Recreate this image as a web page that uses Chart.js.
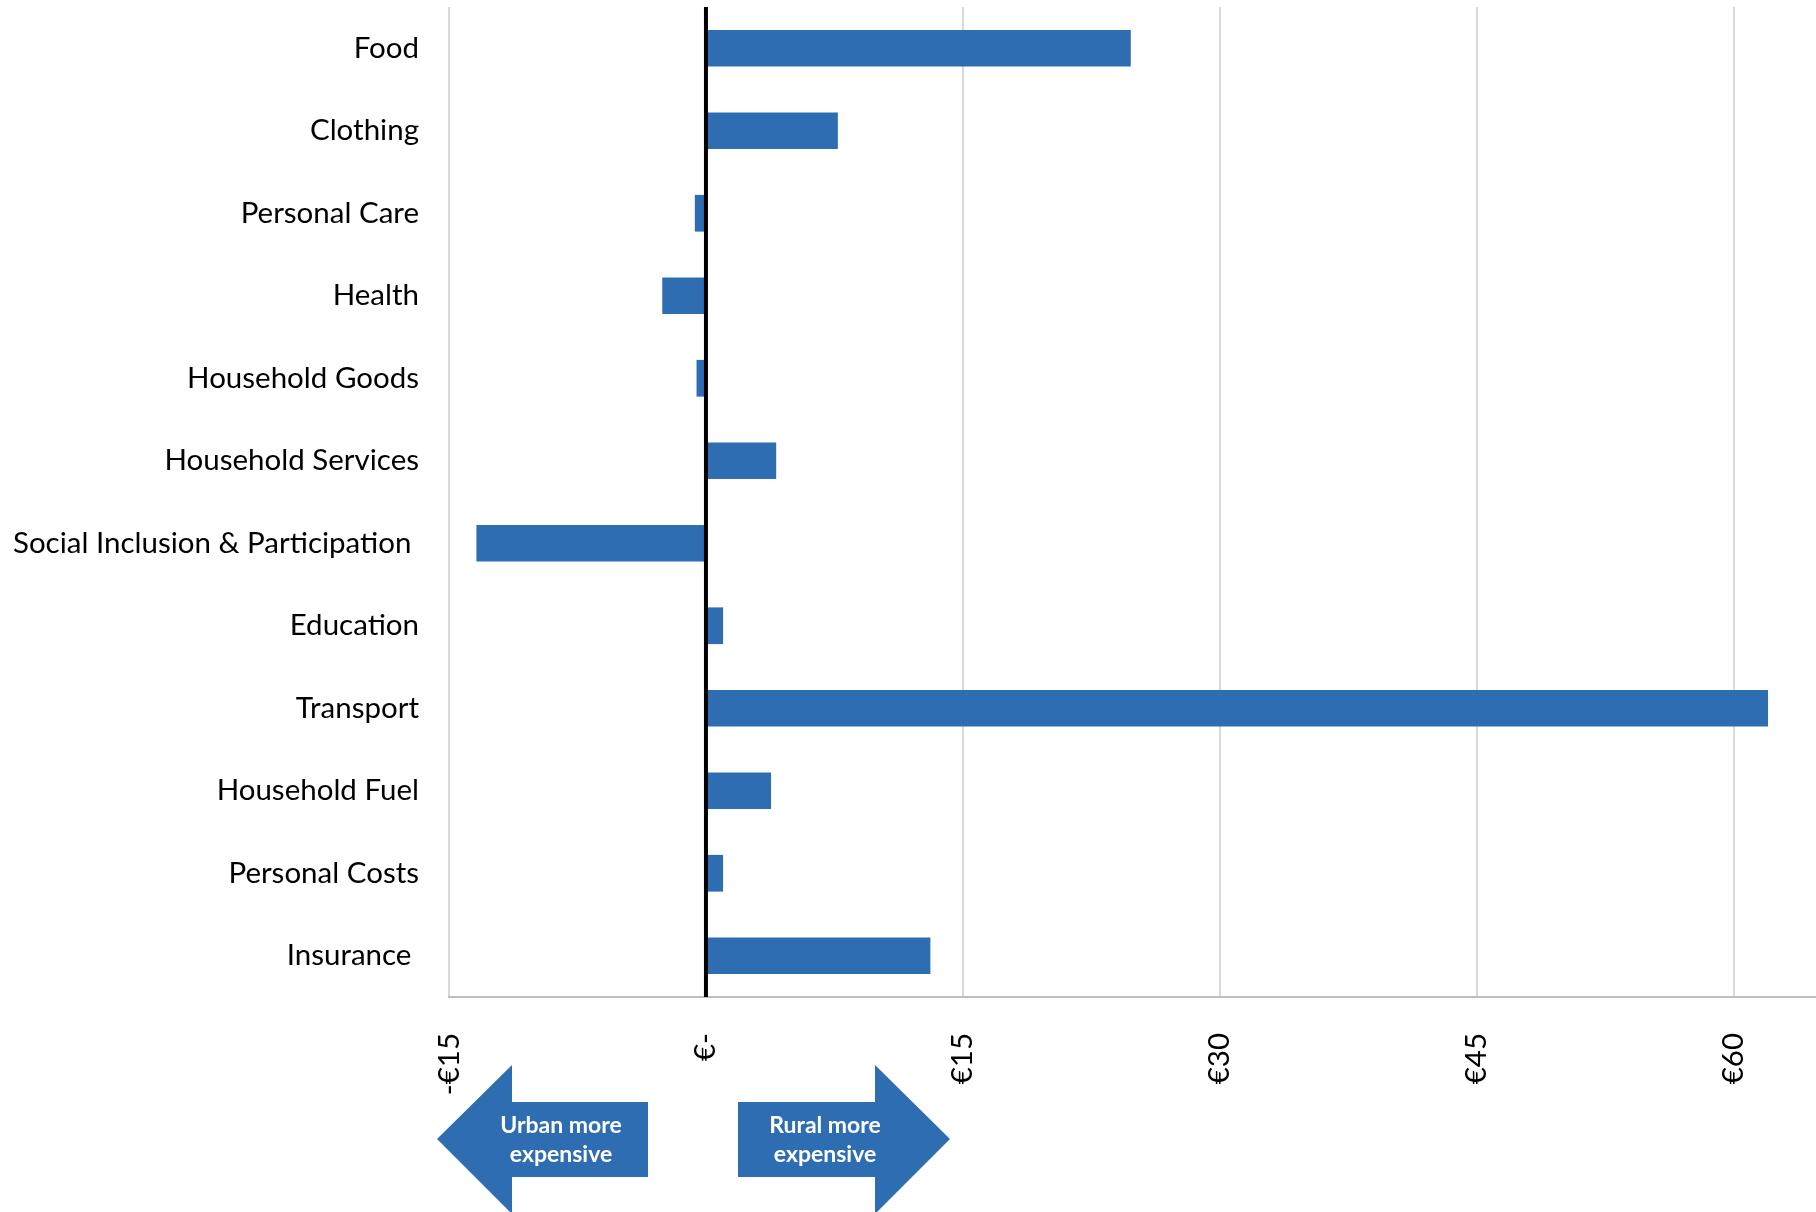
<!DOCTYPE html>
<html lang="en">
<head>
<meta charset="UTF-8">
<title>Urban vs rural cost differences</title>
<script src="https://cdn.jsdelivr.net/npm/chart.js@4/dist/chart.umd.min.js"></script>
<style>
*{margin:0;padding:0;box-sizing:border-box}
body{background:#fff;width:1816px;height:1212px;overflow:hidden}
#wrap{position:relative;width:1816px;height:1212px}
</style>
</head>
<body>
<div id="wrap"><canvas id="c" width="1816" height="1212"></canvas></div>
<script>
// categories, top to bottom (trailing spaces as in the original labels)
const categories = ['Food', 'Clothing', 'Personal Care', 'Health', 'Household Goods', 'Household Services',
  'Social Inclusion & Participation ', 'Education', 'Transport', 'Household Fuel', 'Personal Costs', 'Insurance '];
// weekly difference, rural minus urban (€)
const differences = [24.8, 7.7, -0.65, -2.55, -0.55, 4.1, -13.4, 1.0, 62.0, 3.8, 1.0, 13.1];
const tickValues = [-15, 0, 15, 30, 45, 60];
const tickLabels = ['-€15', '€-', '€15', '€30', '€45', '€60'];
const arrowTexts = [['Urban more', 'expensive'], ['Rural more', 'expensive']];

const BLUE = '#2E6DB2';
const FONT = 'Lato, "Open Sans", sans-serif';

// black line at zero, drawn over the bars
const zeroLine = {
  id: 'zeroLine',
  afterDatasetsDraw(chart) {
    const { ctx, chartArea, scales } = chart;
    const x = scales.x.getPixelForValue(0);
    ctx.save();
    ctx.strokeStyle = '#000';
    ctx.lineWidth = 4;
    ctx.beginPath();
    ctx.moveTo(x, chartArea.top);
    ctx.lineTo(x, chartArea.bottom);
    ctx.stroke();
    ctx.restore();
  }
};

// the two direction arrows under the axis
const arrows = {
  id: 'arrows',
  afterDraw(chart) {
    const ctx = chart.ctx;
    ctx.save();
    ctx.fillStyle = BLUE;
    // left arrow
    ctx.beginPath();
    ctx.moveTo(437, 1139);
    ctx.lineTo(512, 1065);
    ctx.lineTo(512, 1102);
    ctx.lineTo(648, 1102);
    ctx.lineTo(648, 1177);
    ctx.lineTo(512, 1177);
    ctx.lineTo(512, 1214);
    ctx.closePath();
    ctx.fill();
    // right arrow
    ctx.beginPath();
    ctx.moveTo(738, 1102);
    ctx.lineTo(875, 1102);
    ctx.lineTo(875, 1065);
    ctx.lineTo(950, 1139);
    ctx.lineTo(875, 1214);
    ctx.lineTo(875, 1177);
    ctx.lineTo(738, 1177);
    ctx.closePath();
    ctx.fill();

    ctx.fillStyle = '#fff';
    ctx.font = 'bold 23px ' + FONT;
    ctx.textAlign = 'center';
    ctx.textBaseline = 'middle';
    ctx.fillText(arrowTexts[0][0], 561, 1126);
    ctx.fillText(arrowTexts[0][1], 561, 1155);
    ctx.fillText(arrowTexts[1][0], 825, 1126);
    ctx.fillText(arrowTexts[1][1], 825, 1155);
    ctx.restore();
  }
};

new Chart(document.getElementById('c'), {
  type: 'bar',
  data: {
    labels: categories,
    datasets: [{
      data: differences,
      backgroundColor: BLUE,
      borderWidth: 0,
      barPercentage: 0.445,
      categoryPercentage: 1
    }]
  },
  options: {
    indexAxis: 'y',
    responsive: false,
    animation: false,
    layout: { padding: { top: 7, right: 0, bottom: 0, left: 0 } },
    plugins: { legend: { display: false }, tooltip: { enabled: false } },
    scales: {
      x: {
        min: -15,
        max: 64.8,
        afterBuildTicks(scale) { scale.ticks = tickValues.map(v => ({ value: v })); },
        afterFit(scale) { scale.height = 215; },
        grid: { color: '#d9d9d9', lineWidth: 2, drawTicks: false },
        border: { display: true, color: '#bfbfbf', width: 2 },
        ticks: {
          minRotation: 90,
          maxRotation: 90,
          padding: 36,
          color: '#000',
          font: { family: FONT, size: 29.5 },
          callback: (v) => tickLabels[tickValues.indexOf(v)] ?? ''
        }
      },
      y: {
        afterFit(scale) {
          scale.width = 449;
          scale.paddingTop = 0;
          scale.paddingBottom = 0;
        },
        grid: { display: false, drawTicks: false },
        border: { display: false },
        ticks: {
          padding: 30,
          color: '#000',
          font: { family: FONT, size: 29.5 }
        }
      }
    }
  },
  plugins: [zeroLine, arrows]
});
</script>
</body>
</html>
